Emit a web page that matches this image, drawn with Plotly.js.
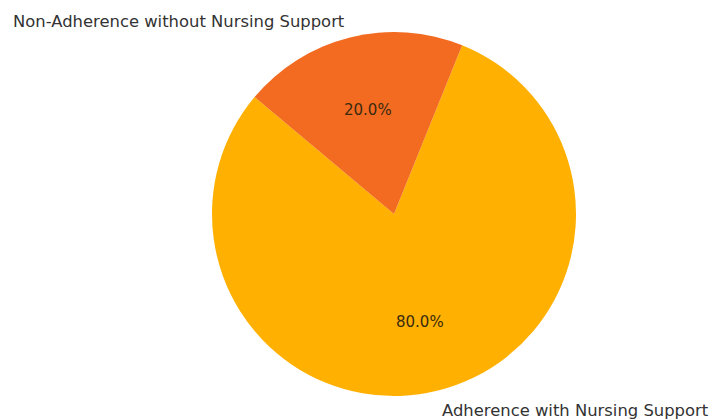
<!DOCTYPE html>
<html>
<head>
<meta charset="utf-8">
<script src="https://cdn.plot.ly/plotly-3.0.1.min.js"></script>
<style>html,body{margin:0;padding:0;background:#fff;}#chart{width:710px;height:419px;}</style>
</head>
<body>
<div id="chart"></div>
<script>
const labels = ['Adherence with Nursing Support', 'Non-Adherence without Nursing Support'];
const values = [80, 20];
const colors = ['#FFB000', '#F26B21'];

const W = 710, H = 419;
const cx = 394, cy = 214, R = 182;
const startAngle = 140; // degrees, counterclockwise from 3 o'clock

const total = values.reduce((a, b) => a + b, 0);
const annotations = [];
let acc = startAngle;
values.forEach((v, i) => {
  const span = v / total * 360;
  const mid = (acc + span / 2) * Math.PI / 180;
  acc += span;
  const c = Math.cos(mid), s = Math.sin(mid);
  annotations.push({
    x: (cx + 1.1 * R * c) / W, y: (H - (cy - 1.1 * R * s)) / H,
    xref: 'paper', yref: 'paper', showarrow: false, yshift: -2,
    xshift: c < 0 ? 1 : -2,
    text: labels[i], xanchor: c < 0 ? 'right' : 'left', yanchor: 'middle',
    font: {family: 'DejaVu Sans', size: 16.4, color: '#333'}
  });
  annotations.push({
    x: (cx + 0.6 * R * c) / W, y: (H - (cy - 0.6 * R * s)) / H,
    xref: 'paper', yref: 'paper', showarrow: false, yshift: -2,
    text: (v / total * 100).toFixed(1) + '%', xanchor: 'center', yanchor: 'middle',
    font: {family: 'DejaVu Sans', size: 15, color: '#3a2a10'}
  });
});

// Plotly's counterclockwise pie places the first slice ending at the rotation angle,
// so shift by the remaining slices' span to make the first slice start at startAngle.
const lastSpan = values.slice(1).reduce((a, b) => a + b, 0) / total * 360;

const trace = {
  type: 'pie',
  labels: labels,
  values: values,
  sort: false,
  direction: 'counterclockwise',
  rotation: -(startAngle - 90) + lastSpan,
  marker: {colors: colors, line: {width: 0}},
  textinfo: 'none',
  hoverinfo: 'label+percent',
  showlegend: false,
  domain: {x: [(cx - R) / W, (cx + R) / W], y: [(H - cy - R) / H, (H - cy + R) / H]}
};

const layout = {
  width: W, height: H,
  margin: {l: 0, r: 0, t: 0, b: 0},
  paper_bgcolor: '#fff',
  showlegend: false,
  annotations: annotations
};

Plotly.newPlot('chart', [trace], layout, {displayModeBar: false, staticPlot: true});
</script>
</body>
</html>
